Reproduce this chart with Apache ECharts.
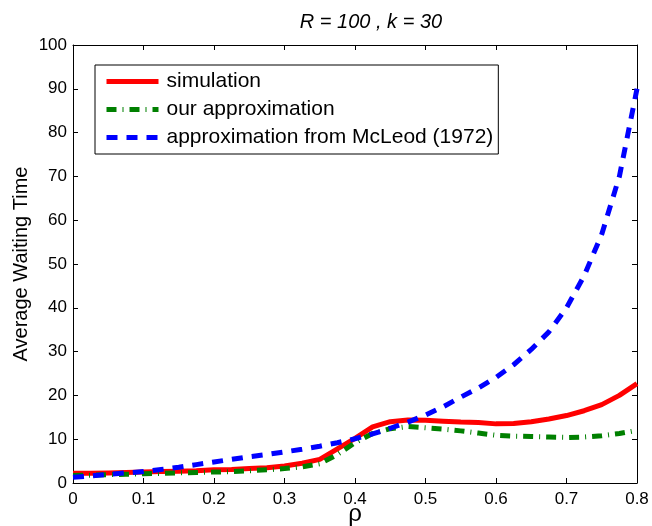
<!DOCTYPE html>
<html>
<head>
<meta charset="utf-8">
<script src="https://cdn.jsdelivr.net/npm/echarts@6/dist/echarts.min.js"></script>
<style>
  html, body { margin: 0; padding: 0; background: #fff; }
  #chart { width: 652px; height: 526px; }
</style>
</head>
<body>
<div id="chart"></div>
<script>
// Load factor rho (x values)
const rho = [0, 0.025, 0.05, 0.075, 0.1, 0.125, 0.15, 0.175, 0.2, 0.225, 0.25, 0.275,
  0.3, 0.325, 0.35, 0.375, 0.4, 0.425, 0.45, 0.475, 0.5, 0.525, 0.55, 0.575,
  0.6, 0.625, 0.65, 0.675, 0.7, 0.725, 0.75, 0.775, 0.8];

// Average waiting time, simulated
const simulation = [2.2, 2.2, 2.3, 2.4, 2.5, 2.6, 2.7, 2.8, 3.0, 3.1, 3.3, 3.5,
  3.9, 4.5, 5.4, 7.8, 10.2, 12.8, 14.0, 14.4, 14.3, 14.1, 13.9, 13.8,
  13.5, 13.6, 14.0, 14.6, 15.4, 16.5, 17.9, 20.0, 22.7];

// Average waiting time, our approximation
const ourApprox = [1.7, 1.8, 1.9, 2.0, 2.1, 2.2, 2.3, 2.4, 2.5, 2.6, 2.8, 3.0,
  3.3, 3.7, 4.4, 6.5, 9.2, 11.3, 12.4, 12.9, 12.6, 12.3, 11.9, 11.4,
  10.9, 10.7, 10.6, 10.5, 10.4, 10.5, 10.8, 11.3, 12.0];

// Average waiting time, approximation from McLeod (1972)
const mcleod = [1.3, 1.6, 2.0, 2.3, 2.6, 3.1, 3.6, 4.2, 4.8, 5.4, 6.0, 6.5,
  7.1, 7.7, 8.4, 9.2, 10.1, 11.2, 12.5, 13.9, 15.5, 17.4, 19.6, 21.7,
  24.1, 27.0, 30.5, 34.5, 40.0, 47.3, 56.8, 70.0, 90.0];

const seriesNames = ['simulation', 'our approximation', 'approximation from McLeod (1972)'];
const colors = ['#ff0000', '#008000', '#0000ff'];
const dashes = ['solid', [10, 6, 1, 6], [11, 9]];

const FONT = 'Liberation Sans';
const pairs = ys => rho.map((x, i) => [x, ys[i]]);

// Boxed axes with inward ticks on every side
const boxAxis = {
  axisLine: { show: true, onZero: false, lineStyle: { color: '#000', width: 1 } },
  axisTick: { show: true, inside: true, length: 5, lineStyle: { color: '#000' } },
  splitLine: { show: false }
};

const chart = echarts.init(document.getElementById('chart'), null, { renderer: 'canvas' });
chart.setOption({
  animation: false,
  backgroundColor: '#fff',
  title: {
    text: 'R = 100 , k = 30',
    left: 366, top: 7, textAlign: 'center',
    textStyle: { fontFamily: FONT, fontSize: 20, fontStyle: 'italic', fontWeight: 'normal', color: '#000' }
  },
  grid: { left: 73, right: 15, top: 45, bottom: 43, containLabel: false, outerBoundsMode: 'none' },
  legend: {
    orient: 'vertical',
    left: 95, top: 65,
    padding: [6, 5, 6, 9],
    itemWidth: 52, itemHeight: 14, itemGap: 7,
    backgroundColor: '#fff',
    borderColor: '#000', borderWidth: 1,
    itemStyle: { color: 'transparent', borderWidth: 0, opacity: 0 },
    textStyle: { fontFamily: FONT, fontSize: 21, color: '#000', padding: [0, 0, 0, 3] },
    data: seriesNames.map((name, i) => ({
      name: name,
      lineStyle: { color: colors[i], width: 5, type: dashes[i], opacity: 1 }
    }))
  },
  xAxis: [
    Object.assign({
      type: 'value', min: 0, max: 0.8, interval: 0.1, position: 'bottom',
      name: 'ρ', nameLocation: 'middle', nameGap: 19, nameMoveOverlap: false,
      nameTextStyle: { fontFamily: FONT, fontSize: 24, color: '#000' },
      axisLabel: { fontFamily: FONT, fontSize: 17, color: '#000', margin: 8 }
    }, boxAxis),
    Object.assign({
      type: 'value', min: 0, max: 0.8, interval: 0.1, position: 'top',
      axisLabel: { show: false }
    }, boxAxis)
  ],
  yAxis: [
    Object.assign({
      type: 'value', min: 0, max: 100, interval: 10, position: 'left',
      name: 'Average Waiting Time', nameLocation: 'middle', nameGap: 42, nameMoveOverlap: false,
      nameTextStyle: { fontFamily: FONT, fontSize: 20, color: '#000' },
      axisLabel: { fontFamily: FONT, fontSize: 17, color: '#000', margin: 6 }
    }, boxAxis),
    Object.assign({
      type: 'value', min: 0, max: 100, interval: 10, position: 'right',
      axisLabel: { show: false }
    }, boxAxis)
  ],
  series: [0, 1, 2].map(i => ({
    name: seriesNames[i], type: 'line',
    data: pairs([simulation, ourApprox, mcleod][i]),
    symbol: 'none', showSymbol: false, smooth: false,
    lineStyle: { color: colors[i], width: 5, type: dashes[i] },
    itemStyle: { color: colors[i] }
  }))
});
</script>
</body>
</html>
